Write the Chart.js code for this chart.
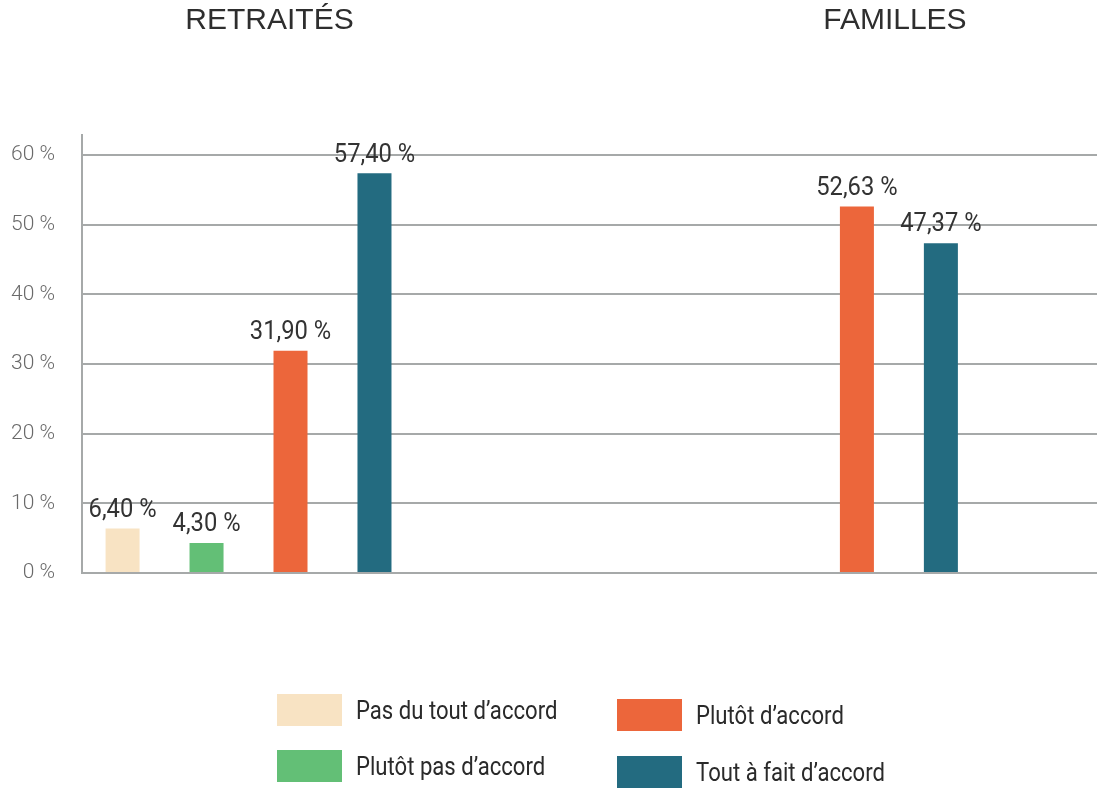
<!DOCTYPE html>
<html lang="fr">
<head>
<meta charset="utf-8">
<script src="https://cdn.jsdelivr.net/npm/chart.js@4/dist/chart.umd.min.js"></script>
<style>
  html, body { margin: 0; padding: 0; background: #fff; }
  #wrap { position: relative; width: 1097px; height: 790px; }
  #legend { position: absolute; left: 0; top: 0; width: 1097px; height: 790px; pointer-events: none; }
  .item { position: absolute; display: flex; align-items: center; }
  .sw { width: 65px; height: 32px; flex: none; }
  .lbl { margin-left: 14px; font-family: Roboto, sans-serif; font-size: 25px; color: #2a2a2a; white-space: nowrap; transform: scaleX(0.885); transform-origin: left center; }
</style>
</head>
<body>
<div id="wrap">
  <canvas id="c" width="1097" height="790"></canvas>
  <div id="legend"></div>
</div>
<script>
// ---- data ----
const categories = ['RETRAITÉS', 'FAMILLES'];
const seriesNames = ['Pas du tout d’accord', 'Plutôt pas d’accord', 'Plutôt d’accord', 'Tout à fait d’accord'];
const pasDuToutDAccord = [6.40, null];
const plutotPasDAccord = [4.30, null];
const plutotDAccord = [31.90, 52.63];
const toutAFaitDAccord = [57.40, 47.37];
const yTickValues = [0, 10, 20, 30, 40, 50, 60];

// ---- styles ----
const colors = ['#f8e3c3', '#63bf76', '#ec663b', '#236b80'];
const seriesValues = [pasDuToutDAccord, plutotPasDAccord, plutotDAccord, toutAFaitDAccord];

const datasets = seriesValues.map((vals, s) => ({
  label: seriesNames[s],
  backgroundColor: colors[s],
  borderWidth: 0,
  data: vals.map((v, i) => ({ x: i, y: v })),
  categoryPercentage: 0.593,
  barPercentage: 0.405
}));

const fmt = v => v.toFixed(2).replace('.', ',') + ' %';

const overlay = {
  id: 'overlay',
  afterDatasetsDraw(chart) {
    const ctx = chart.ctx;
    ctx.save();
    ctx.fillStyle = '#333333';
    ctx.font = '25px Roboto, sans-serif';
    ctx.textAlign = 'center';
    ctx.textBaseline = 'middle';
    chart.data.datasets.forEach((ds, di) => {
      const meta = chart.getDatasetMeta(di);
      meta.data.forEach((bar, i) => {
        const v = seriesValues[di][i];
        if (v === null || v === undefined) return;
        ctx.save();
        ctx.translate(bar.x, bar.y - 18);
        ctx.scale(0.95, 1);
        ctx.fillText(fmt(v), 0, 0);
        ctx.restore();
      });
    });
    // group titles
    const xs = chart.scales.x;
    const titleOffsets = [21, 80];
    ctx.font = '30px "Liberation Sans", Arial, sans-serif';
    ctx.fillStyle = '#2e2e2e';
    categories.forEach((c, i) => {
      ctx.fillText(c, xs.getPixelForValue(i) + titleOffsets[i], 21);
    });
    ctx.restore();
  }
};

new Chart(document.getElementById('c'), {
  type: 'bar',
  data: { datasets },
  options: {
    responsive: false,
    animation: false,
    layout: { padding: { top: 135, bottom: 217, left: 0, right: 0 } },
    plugins: { legend: { display: false }, tooltip: { enabled: false } },
    scales: {
      x: {
        type: 'linear',
        display: false,
        offset: false,
        min: -0.294,
        max: 1.498,
        ticks: { stepSize: 1, includeBounds: false },
        afterBuildTicks: s => { s.ticks = categories.map((c, i) => ({ value: i })); }
      },
      y: {
        min: 0,
        max: 62.9,
        afterBuildTicks: s => { s.ticks = yTickValues.map(v => ({ value: v })); },
        afterFit: s => { s.width = 82; },
        border: { display: true, color: '#a6a9a9', width: 2 },
        grid: { color: '#a6a9a9', lineWidth: 2, drawTicks: false },
        ticks: {
          padding: 27,
          color: '#6a6a6a',
          font: { family: 'Roboto', size: 21, weight: '300' },
          callback: v => v + ' %'
        }
      }
    }
  },
  plugins: [overlay]
});

// legend
const legendPos = [[277, 694], [277, 750], [617, 699], [617, 756]];
const lg = document.getElementById('legend');
seriesNames.forEach((n, i) => {
  const d = document.createElement('div');
  d.className = 'item';
  d.style.left = legendPos[i][0] + 'px';
  d.style.top = legendPos[i][1] + 'px';
  d.innerHTML = '<div class="sw" style="background:' + colors[i] + '"></div><div class="lbl">' + n + '</div>';
  lg.appendChild(d);
});
</script>
</body>
</html>
